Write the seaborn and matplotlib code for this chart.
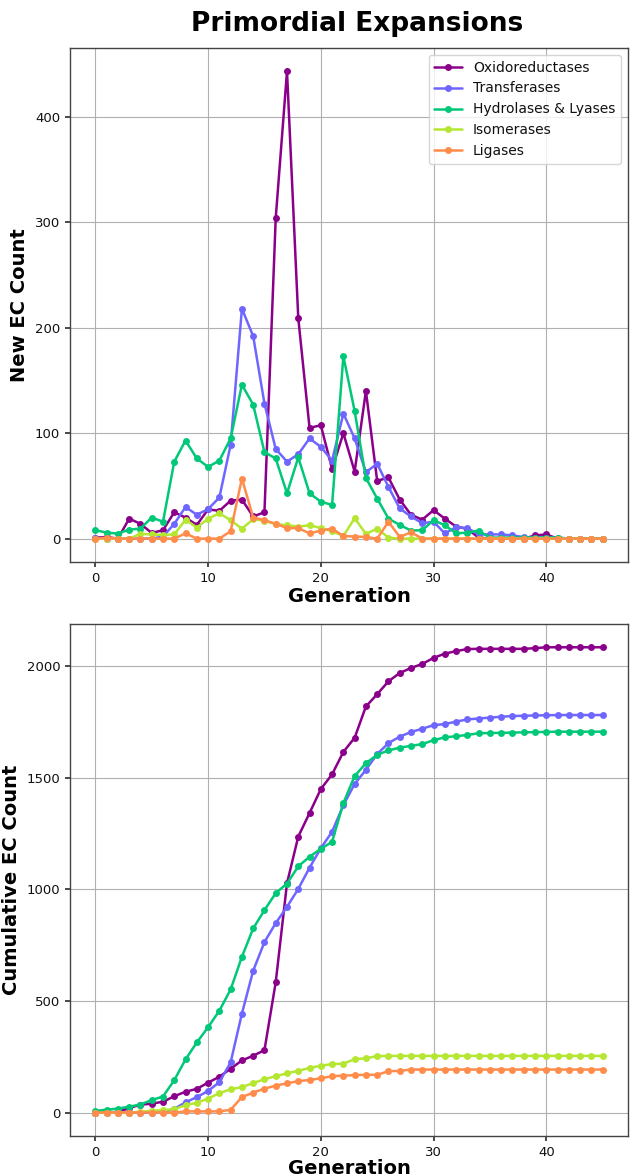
import numpy as np
import pandas as pd
import matplotlib
matplotlib.use("Agg")
import matplotlib.pyplot as plt
import seaborn as sns

generations = list(range(46))
categories = ["Oxidoreductases", "Transferases", "Hydrolases & Lyases", "Isomerases", "Ligases"]
colors = ["#8b008b", "#6f66ff", "#00c878", "#b4e632", "#ff8c4b"]

oxidoreductases = [1, 1.5, 0, 19, 14, 5.4, 8, 25, 20, 13, 27.7, 26.4, 36, 37, 21, 25,
                   304, 443, 209, 105, 107.5, 66, 100, 63.6, 140, 54.7, 58, 37, 22.6, 18,
                   27, 19, 11.4, 9.2, 1, 0, 0, 0, 0, 3, 4, 0, 0, 0, 0, 0]
transferases = [1, 0, 0, 0, 0, 0, 2, 14, 30, 22.6, 28, 39, 89, 218, 192, 128,
                85, 73, 80, 95, 87, 74, 118.6, 95, 63, 71, 49, 28.6, 21, 14.6,
                16, 5, 10.8, 10, 4, 4, 4, 3, 1.5, 1, 1, 1, 0, 0, 0, 0]
hydrolases_lyases = [8, 5.7, 4.8, 8.6, 9.5, 20, 16, 73, 93, 76, 68, 74, 95, 146, 127, 82,
                     76, 43, 77, 43, 35, 32, 173, 121, 57.5, 38, 19, 13, 7.6, 8,
                     17.5, 12.7, 5, 5.7, 7.6, 1, 1, 1, 1, 1, 1, 1, 0, 0, 0, 0]
isomerases = [0, 0, 0, 0, 4.5, 4, 3.5, 4, 18, 10.5, 19, 24, 17.5, 9.5, 18.4, 17,
              13.7, 12.7, 11.4, 12.7, 10, 7, 2.5, 19.4, 4.5, 9.5, 1, 0, 0, 0,
              0, 0, 0, 0, 0, 0, 0, 0, 0, 0, 0, 0, 0, 0, 0, 0]
ligases = [0, 1, 0, 0, 0, 0, 0, 0, 5, 0, 0, 0, 7, 57, 20, 17.5,
           14, 10, 10, 5, 7.6, 9.5, 2.5, 2, 1.6, 0, 16, 1.6, 6, 0,
           0, 0, 0, 0, 0, 0, 0, 0, 0, 0, 0, 0, 0, 0, 0, 0]

series = [oxidoreductases, transferases, hydrolases_lyases, isomerases, ligases]

rows = []
for cat, vals in zip(categories, series):
    cum = np.cumsum(vals)
    for g, v, c in zip(generations, vals, cum):
        rows.append({"Generation": g, "Category": cat, "New": v, "Cumulative": c})
df = pd.DataFrame(rows)

sns.set_theme(style="ticks")
plt.rcParams["font.family"] = ["DejaVu Sans"]
plt.rcParams["text.color"] = "black"
plt.rcParams["axes.labelcolor"] = "black"
plt.rcParams["xtick.color"] = "black"
plt.rcParams["ytick.color"] = "black"

palette = dict(zip(categories, colors))

fig = plt.figure(figsize=(6.4, 11.76), dpi=100)
ax1 = fig.add_axes([70/640, 1-562/1176, 558/640, 514/1176])
ax2 = fig.add_axes([70/640, 1-1136/1176, 558/640, 512/1176])

for ax, col, ylabel in [(ax1, "New", "New EC Count"), (ax2, "Cumulative", "Cumulative EC Count")]:
    sns.lineplot(data=df, x="Generation", y=col, hue="Category", hue_order=categories,
                 palette=palette, marker="o", markersize=5, markeredgewidth=0,
                 linewidth=1.8, ax=ax, legend=(ax is ax1))
    ax.grid(True, color="#b0b0b0", linewidth=0.8)
    ax.set_axisbelow(True)
    ax.set_xlabel("Generation", fontsize=14, fontweight="bold",
                  labelpad=(2 if ax is ax1 else 0))
    ax.set_ylabel(ylabel, fontsize=14, fontweight="bold")
    ax.set_xticks([0, 10, 20, 30, 40])
    ax.tick_params(labelsize=9.5, length=3.5, color="#333333", labelcolor="#111111")
    for s in ax.spines.values():
        s.set_color("#444444")
        s.set_linewidth(1.0)

ax1.set_yticks([0, 100, 200, 300, 400])
ax2.set_yticks([0, 500, 1000, 1500, 2000])

leg = ax1.legend(loc="upper right", fontsize=10, frameon=True, handlelength=2.0)
leg.get_frame().set_edgecolor("#cccccc")
for t in leg.get_texts():
    t.set_color("#111111")

fig.text(357/640, 1-24/1176, "Primordial Expansions", ha="center", va="center",
         fontsize=19, fontweight="bold", color="black")

fig.savefig("out.png", dpi=100)
